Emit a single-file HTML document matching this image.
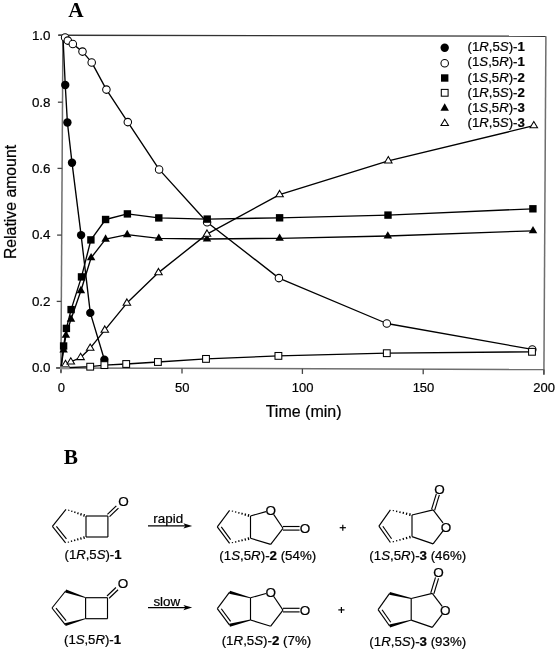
<!DOCTYPE html>
<html><head><meta charset="utf-8"><style>
html,body{margin:0;padding:0;background:#fff;}
body{width:556px;height:651px;overflow:hidden;}
svg{display:block;filter:grayscale(1);}
.s{font-family:"Liberation Sans",sans-serif;fill:#000;stroke:#000;stroke-width:0.22px;}
.r{font-family:"Liberation Serif",serif;fill:#000;}
</style></head><body>
<svg width="556" height="651" viewBox="0 0 556 651">
<rect width="556" height="651" fill="#fff"/>
<line x1="56" y1="367.9" x2="543.9" y2="369.5" stroke="#6e6e6e" stroke-width="1.5"/>
<line x1="62.9" y1="35.3" x2="60.9" y2="372.6" stroke="#6e6e6e" stroke-width="1.5"/>
<line x1="58.3" y1="35.2" x2="545.9" y2="36.2" stroke="#333" stroke-width="1.4"/>
<line x1="545.9" y1="36.2" x2="543.9" y2="374.5" stroke="#6e6e6e" stroke-width="1.5"/>
<line x1="58.3" y1="35.2" x2="62.9" y2="35.2" stroke="#444" stroke-width="1.3"/>
<line x1="57.9" y1="102.2" x2="62.5" y2="102.2" stroke="#444" stroke-width="1.3"/>
<line x1="57.5" y1="168.4" x2="62.1" y2="168.4" stroke="#444" stroke-width="1.3"/>
<line x1="57.1" y1="235.1" x2="61.7" y2="235.1" stroke="#444" stroke-width="1.3"/>
<line x1="56.7" y1="301.4" x2="61.3" y2="301.4" stroke="#444" stroke-width="1.3"/>
<line x1="56.3" y1="367.9" x2="60.9" y2="367.9" stroke="#444" stroke-width="1.3"/>
<line x1="61" y1="368" x2="61" y2="373.2" stroke="#444" stroke-width="1.3"/>
<line x1="182" y1="368.38" x2="182" y2="373.58" stroke="#444" stroke-width="1.3"/>
<line x1="302.4" y1="368.75" x2="302.4" y2="373.95" stroke="#444" stroke-width="1.3"/>
<line x1="423.2" y1="369.13" x2="423.2" y2="374.33" stroke="#444" stroke-width="1.3"/>
<line x1="543.9" y1="369.5" x2="543.9" y2="374.7" stroke="#444" stroke-width="1.3"/>
<polyline points="62.9,35.3 65.25,85 67.4,122.5 72,162.7 81.1,235.1 90.3,312.9 104.4,359.7" fill="none" stroke="#000" stroke-width="1.35" stroke-linejoin="round"/>
<circle cx="65.25" cy="85" r="4.2" fill="#000"/>
<circle cx="67.4" cy="122.5" r="4.2" fill="#000"/>
<circle cx="72" cy="162.7" r="4.2" fill="#000"/>
<circle cx="81.1" cy="235.1" r="4.2" fill="#000"/>
<circle cx="90.3" cy="312.9" r="4.2" fill="#000"/>
<circle cx="104.4" cy="359.7" r="4.2" fill="#000"/>
<polyline points="62.9,35.3 65.1,37.4 67.8,40.6 72.8,44 82.5,51.6 91.7,62.4 106.4,89.6 127.8,122.1 159.1,169.4 207.1,222.2 278.9,278.1 386.8,323.5 532.3,349.4" fill="none" stroke="#000" stroke-width="1.35" stroke-linejoin="round"/>
<circle cx="65.1" cy="37.4" r="3.75" fill="#fff" stroke="#000" stroke-width="1.05"/>
<circle cx="67.8" cy="40.6" r="3.75" fill="#fff" stroke="#000" stroke-width="1.05"/>
<circle cx="72.8" cy="44" r="3.75" fill="#fff" stroke="#000" stroke-width="1.05"/>
<circle cx="82.5" cy="51.6" r="3.75" fill="#fff" stroke="#000" stroke-width="1.05"/>
<circle cx="91.7" cy="62.4" r="3.75" fill="#fff" stroke="#000" stroke-width="1.05"/>
<circle cx="106.4" cy="89.6" r="3.75" fill="#fff" stroke="#000" stroke-width="1.05"/>
<circle cx="127.8" cy="122.1" r="3.75" fill="#fff" stroke="#000" stroke-width="1.05"/>
<circle cx="159.1" cy="169.4" r="3.75" fill="#fff" stroke="#000" stroke-width="1.05"/>
<circle cx="207.1" cy="222.2" r="3.75" fill="#fff" stroke="#000" stroke-width="1.05"/>
<circle cx="278.9" cy="278.1" r="3.75" fill="#fff" stroke="#000" stroke-width="1.05"/>
<circle cx="386.8" cy="323.5" r="3.75" fill="#fff" stroke="#000" stroke-width="1.05"/>
<circle cx="532.3" cy="349.4" r="3.75" fill="#fff" stroke="#000" stroke-width="1.05"/>
<polyline points="61,368 63.6,346 66.4,328.4 71.1,309.6 81.5,276.9 90.9,239.9 105.6,219.5 127.4,213.9 158.8,217.9 207.2,219.1 279.6,217.8 388,215.1 532.9,208.8" fill="none" stroke="#000" stroke-width="1.35" stroke-linejoin="round"/>
<rect x="59.9" y="342.3" width="7.4" height="7.4" fill="#000"/>
<rect x="62.7" y="324.7" width="7.4" height="7.4" fill="#000"/>
<rect x="67.4" y="305.9" width="7.4" height="7.4" fill="#000"/>
<rect x="77.8" y="273.2" width="7.4" height="7.4" fill="#000"/>
<rect x="87.2" y="236.2" width="7.4" height="7.4" fill="#000"/>
<rect x="101.9" y="215.8" width="7.4" height="7.4" fill="#000"/>
<rect x="123.7" y="210.2" width="7.4" height="7.4" fill="#000"/>
<rect x="155.1" y="214.2" width="7.4" height="7.4" fill="#000"/>
<rect x="203.5" y="215.4" width="7.4" height="7.4" fill="#000"/>
<rect x="275.9" y="214.1" width="7.4" height="7.4" fill="#000"/>
<rect x="384.3" y="211.4" width="7.4" height="7.4" fill="#000"/>
<rect x="529.2" y="205.1" width="7.4" height="7.4" fill="#000"/>
<polyline points="61,368 90.2,366.7 104.4,365.1 126.2,364 157.9,362 206,358.9 278.4,355.9 386.8,353.2 532,351.8" fill="none" stroke="#000" stroke-width="1.35" stroke-linejoin="round"/>
<rect x="86.8" y="363.3" width="6.8" height="6.8" fill="#fff" stroke="#000" stroke-width="1.05"/>
<rect x="101" y="361.7" width="6.8" height="6.8" fill="#fff" stroke="#000" stroke-width="1.05"/>
<rect x="122.8" y="360.6" width="6.8" height="6.8" fill="#fff" stroke="#000" stroke-width="1.05"/>
<rect x="154.5" y="358.6" width="6.8" height="6.8" fill="#fff" stroke="#000" stroke-width="1.05"/>
<rect x="202.6" y="355.5" width="6.8" height="6.8" fill="#fff" stroke="#000" stroke-width="1.05"/>
<rect x="275" y="352.5" width="6.8" height="6.8" fill="#fff" stroke="#000" stroke-width="1.05"/>
<rect x="383.4" y="349.8" width="6.8" height="6.8" fill="#fff" stroke="#000" stroke-width="1.05"/>
<rect x="528.6" y="348.4" width="6.8" height="6.8" fill="#fff" stroke="#000" stroke-width="1.05"/>
<polyline points="61,368 63.6,350 65.9,335.3 71,319.2 80.9,290.7 91.1,257.8 105.6,239.2 127.2,234.7 158.8,238.4 207,239 279.6,238.3 387.8,236 533,230.8" fill="none" stroke="#000" stroke-width="1.35" stroke-linejoin="round"/>
<polygon points="63.6,345.13 67.85,352.43 59.35,352.43" fill="#000"/>
<polygon points="65.9,330.43 70.15,337.73 61.65,337.73" fill="#000"/>
<polygon points="71,314.33 75.25,321.63 66.75,321.63" fill="#000"/>
<polygon points="80.9,285.83 85.15,293.13 76.65,293.13" fill="#000"/>
<polygon points="91.1,252.93 95.35,260.23 86.85,260.23" fill="#000"/>
<polygon points="105.6,234.33 109.85,241.63 101.35,241.63" fill="#000"/>
<polygon points="127.2,229.83 131.45,237.13 122.95,237.13" fill="#000"/>
<polygon points="158.8,233.53 163.05,240.83 154.55,240.83" fill="#000"/>
<polygon points="207,234.13 211.25,241.43 202.75,241.43" fill="#000"/>
<polygon points="279.6,233.43 283.85,240.73 275.35,240.73" fill="#000"/>
<polygon points="387.8,231.13 392.05,238.43 383.55,238.43" fill="#000"/>
<polygon points="533,225.93 537.25,233.23 528.75,233.23" fill="#000"/>
<polyline points="61,368 65.5,364.5 70.8,361.9 80.6,357.5 90.2,348.2 104.8,330.1 126.9,303.1 158.5,272.6 207,234.1 279.6,194.6 388.3,160.8 533.8,125.7" fill="none" stroke="#000" stroke-width="1.35" stroke-linejoin="round"/>
<polygon points="65.5,360.3 69.25,366.6 61.75,366.6" fill="#fff" stroke="#000" stroke-width="1.05"/>
<polygon points="70.8,357.7 74.55,364 67.05,364" fill="#fff" stroke="#000" stroke-width="1.05"/>
<polygon points="80.6,353.3 84.35,359.6 76.85,359.6" fill="#fff" stroke="#000" stroke-width="1.05"/>
<polygon points="90.2,344 93.95,350.3 86.45,350.3" fill="#fff" stroke="#000" stroke-width="1.05"/>
<polygon points="104.8,325.9 108.55,332.2 101.05,332.2" fill="#fff" stroke="#000" stroke-width="1.05"/>
<polygon points="126.9,298.9 130.65,305.2 123.15,305.2" fill="#fff" stroke="#000" stroke-width="1.05"/>
<polygon points="158.5,268.4 162.25,274.7 154.75,274.7" fill="#fff" stroke="#000" stroke-width="1.05"/>
<polygon points="207,229.9 210.75,236.2 203.25,236.2" fill="#fff" stroke="#000" stroke-width="1.05"/>
<polygon points="279.6,190.4 283.35,196.7 275.85,196.7" fill="#fff" stroke="#000" stroke-width="1.05"/>
<polygon points="388.3,156.6 392.05,162.9 384.55,162.9" fill="#fff" stroke="#000" stroke-width="1.05"/>
<polygon points="533.8,121.5 537.55,127.8 530.05,127.8" fill="#fff" stroke="#000" stroke-width="1.05"/>
<rect x="60" y="366.3" width="9.5" height="3.2" fill="#aaa" opacity="0.8"/>
<circle cx="444.7" cy="47.7" r="4.2" fill="#000"/>
<circle cx="444.7" cy="63.2" r="3.75" fill="#fff" stroke="#000" stroke-width="1.05"/>
<rect x="441" y="74.3" width="7.4" height="7.4" fill="#000"/>
<rect x="441.3" y="89.4" width="6.8" height="6.8" fill="#fff" stroke="#000" stroke-width="1.05"/>
<polygon points="444.7,103.33 448.95,110.63 440.45,110.63" fill="#000"/>
<polygon points="444.7,119.2 448.45,125.5 440.95,125.5" fill="#fff" stroke="#000" stroke-width="1.05"/>
<text x="467.6" y="51.2" class="s" font-size="13.2">(1<tspan font-style="italic">R</tspan>,5<tspan font-style="italic">S</tspan>)-<tspan font-weight="bold">1</tspan></text>
<text x="467.6" y="66.35" class="s" font-size="13.2">(1<tspan font-style="italic">S</tspan>,5<tspan font-style="italic">R</tspan>)-<tspan font-weight="bold">1</tspan></text>
<text x="467.6" y="81.5" class="s" font-size="13.2">(1<tspan font-style="italic">S</tspan>,5<tspan font-style="italic">R</tspan>)-<tspan font-weight="bold">2</tspan></text>
<text x="467.6" y="96.65" class="s" font-size="13.2">(1<tspan font-style="italic">R</tspan>,5<tspan font-style="italic">S</tspan>)-<tspan font-weight="bold">2</tspan></text>
<text x="467.6" y="111.8" class="s" font-size="13.2">(1<tspan font-style="italic">S</tspan>,5<tspan font-style="italic">R</tspan>)-<tspan font-weight="bold">3</tspan></text>
<text x="467.6" y="126.95" class="s" font-size="13.2">(1<tspan font-style="italic">R</tspan>,5<tspan font-style="italic">S</tspan>)-<tspan font-weight="bold">3</tspan></text>
<text x="50.5" y="39.55" class="s" font-size="13.4" text-anchor="end">1.0</text>
<text x="50.5" y="106.55" class="s" font-size="13.4" text-anchor="end">0.8</text>
<text x="50.5" y="172.75" class="s" font-size="13.4" text-anchor="end">0.6</text>
<text x="50.5" y="239.45" class="s" font-size="13.4" text-anchor="end">0.4</text>
<text x="50.5" y="305.75" class="s" font-size="13.4" text-anchor="end">0.2</text>
<text x="50.5" y="372.25" class="s" font-size="13.4" text-anchor="end">0.0</text>
<text x="61.3" y="392.0" class="s" font-size="13" text-anchor="middle">0</text>
<text x="182.3" y="392.0" class="s" font-size="13" text-anchor="middle">50</text>
<text x="302.7" y="392.0" class="s" font-size="13" text-anchor="middle">100</text>
<text x="423.5" y="392.0" class="s" font-size="13" text-anchor="middle">150</text>
<text x="544.2" y="392.0" class="s" font-size="13" text-anchor="middle">200</text>
<text x="303.6" y="416.6" class="s" font-size="16" text-anchor="middle">Time (min)</text>
<text transform="translate(16.3,202.0) rotate(-90)" x="0" y="0" class="s" font-size="15.8" text-anchor="middle">Relative amount</text>
<text x="68.2" y="17.4" class="r" font-size="21.3" font-weight="bold">A</text>
<text x="63.8" y="463.7" class="r" font-size="21.3" font-weight="bold">B</text>
<line x1="66" y1="509.3" x2="52.4" y2="526.3" stroke="#000" stroke-width="1.15"/>
<line x1="52.4" y1="526.3" x2="65.6" y2="542.9" stroke="#000" stroke-width="1.15"/>
<line x1="56.41" y1="526.36" x2="66.44" y2="538.98" stroke="#000" stroke-width="1.15"/>
<line x1="68.9" y1="509.71" x2="68.56" y2="510.72" stroke="#000" stroke-width="1.3"/>
<line x1="72.02" y1="510.59" x2="71.58" y2="511.9" stroke="#000" stroke-width="1.3"/>
<line x1="75.13" y1="511.47" x2="74.6" y2="513.07" stroke="#000" stroke-width="1.3"/>
<line x1="78.25" y1="512.35" x2="77.62" y2="514.24" stroke="#000" stroke-width="1.3"/>
<line x1="81.37" y1="513.23" x2="80.63" y2="515.42" stroke="#000" stroke-width="1.3"/>
<line x1="84.48" y1="514.12" x2="83.65" y2="516.59" stroke="#000" stroke-width="1.3"/>
<line x1="68.24" y1="541.58" x2="68.54" y2="542.61" stroke="#000" stroke-width="1.3"/>
<line x1="71.32" y1="540.53" x2="71.71" y2="541.85" stroke="#000" stroke-width="1.3"/>
<line x1="74.41" y1="539.47" x2="74.88" y2="541.09" stroke="#000" stroke-width="1.3"/>
<line x1="77.5" y1="538.42" x2="78.05" y2="540.34" stroke="#000" stroke-width="1.3"/>
<line x1="80.58" y1="537.37" x2="81.22" y2="539.58" stroke="#000" stroke-width="1.3"/>
<line x1="83.67" y1="536.32" x2="84.39" y2="538.82" stroke="#000" stroke-width="1.3"/>
<line x1="86" y1="516" x2="86" y2="537" stroke="#000" stroke-width="1.15"/>
<line x1="86" y1="516" x2="107.9" y2="516" stroke="#000" stroke-width="1.15"/>
<line x1="107.9" y1="516" x2="107.9" y2="537" stroke="#000" stroke-width="1.15"/>
<line x1="107.9" y1="537" x2="86" y2="537" stroke="#000" stroke-width="1.15"/>
<line x1="107.41" y1="514.33" x2="116.33" y2="505.81" stroke="#000" stroke-width="1.15"/>
<line x1="109.55" y1="516.57" x2="118.47" y2="508.05" stroke="#000" stroke-width="1.15"/>
<text x="123.4" y="505.95" class="s" font-size="13.5" text-anchor="middle">O</text>
<line x1="229.6" y1="510.4" x2="217.3" y2="526.8" stroke="#000" stroke-width="1.15"/>
<line x1="217.3" y1="526.8" x2="229.6" y2="543.4" stroke="#000" stroke-width="1.15"/>
<line x1="221.27" y1="526.95" x2="230.61" y2="539.56" stroke="#000" stroke-width="1.15"/>
<line x1="232.6" y1="510.65" x2="232.32" y2="511.68" stroke="#000" stroke-width="1.3"/>
<line x1="235.84" y1="511.36" x2="235.48" y2="512.69" stroke="#000" stroke-width="1.3"/>
<line x1="239.08" y1="512.07" x2="238.65" y2="513.7" stroke="#000" stroke-width="1.3"/>
<line x1="242.33" y1="512.78" x2="241.81" y2="514.7" stroke="#000" stroke-width="1.3"/>
<line x1="245.57" y1="513.49" x2="244.98" y2="515.71" stroke="#000" stroke-width="1.3"/>
<line x1="248.82" y1="514.2" x2="248.14" y2="516.72" stroke="#000" stroke-width="1.3"/>
<line x1="232.33" y1="542.17" x2="232.59" y2="543.21" stroke="#000" stroke-width="1.3"/>
<line x1="235.49" y1="541.22" x2="235.83" y2="542.56" stroke="#000" stroke-width="1.3"/>
<line x1="238.66" y1="540.28" x2="239.07" y2="541.91" stroke="#000" stroke-width="1.3"/>
<line x1="241.83" y1="539.33" x2="242.31" y2="541.26" stroke="#000" stroke-width="1.3"/>
<line x1="245" y1="538.38" x2="245.55" y2="540.62" stroke="#000" stroke-width="1.3"/>
<line x1="248.16" y1="537.44" x2="248.79" y2="539.97" stroke="#000" stroke-width="1.3"/>
<line x1="250.5" y1="516" x2="250.5" y2="538.2" stroke="#000" stroke-width="1.15"/>
<line x1="250.5" y1="516" x2="265.99" y2="511.65" stroke="#000" stroke-width="1.15"/>
<line x1="273.61" y1="514.44" x2="283" y2="528.3" stroke="#000" stroke-width="1.15"/>
<line x1="283" y1="526.5" x2="299.6" y2="526.5" stroke="#000" stroke-width="1.15"/>
<line x1="283" y1="530.1" x2="299.6" y2="530.1" stroke="#000" stroke-width="1.15"/>
<line x1="283" y1="528.3" x2="270.7" y2="544.4" stroke="#000" stroke-width="1.15"/>
<line x1="270.7" y1="544.4" x2="250.5" y2="538.2" stroke="#000" stroke-width="1.15"/>
<text x="270.8" y="515.05" class="s" font-size="13.5" text-anchor="middle">O</text>
<text x="305" y="533.05" class="s" font-size="13.5" text-anchor="middle">O</text>
<line x1="390.4" y1="509.9" x2="378.9" y2="526.1" stroke="#000" stroke-width="1.15"/>
<line x1="378.9" y1="526.1" x2="390.4" y2="542.5" stroke="#000" stroke-width="1.15"/>
<line x1="382.82" y1="526.29" x2="391.56" y2="538.75" stroke="#000" stroke-width="1.15"/>
<line x1="393.48" y1="510.07" x2="393.23" y2="511.12" stroke="#000" stroke-width="1.3"/>
<line x1="396.82" y1="510.71" x2="396.51" y2="512.05" stroke="#000" stroke-width="1.3"/>
<line x1="400.17" y1="511.34" x2="399.78" y2="512.98" stroke="#000" stroke-width="1.3"/>
<line x1="403.52" y1="511.97" x2="403.06" y2="513.91" stroke="#000" stroke-width="1.3"/>
<line x1="406.86" y1="512.61" x2="406.34" y2="514.84" stroke="#000" stroke-width="1.3"/>
<line x1="410.21" y1="513.24" x2="409.61" y2="515.78" stroke="#000" stroke-width="1.3"/>
<line x1="393.21" y1="541.18" x2="393.49" y2="542.21" stroke="#000" stroke-width="1.3"/>
<line x1="396.48" y1="540.12" x2="396.85" y2="541.45" stroke="#000" stroke-width="1.3"/>
<line x1="399.75" y1="539.07" x2="400.2" y2="540.7" stroke="#000" stroke-width="1.3"/>
<line x1="403.03" y1="538.02" x2="403.55" y2="539.94" stroke="#000" stroke-width="1.3"/>
<line x1="406.3" y1="536.97" x2="406.9" y2="539.18" stroke="#000" stroke-width="1.3"/>
<line x1="409.57" y1="535.91" x2="410.26" y2="538.43" stroke="#000" stroke-width="1.3"/>
<line x1="412" y1="515" x2="412" y2="536.6" stroke="#000" stroke-width="1.15"/>
<line x1="412" y1="515" x2="433.1" y2="509.9" stroke="#000" stroke-width="1.15"/>
<line x1="431.57" y1="509.43" x2="436.3" y2="493.9" stroke="#000" stroke-width="1.15"/>
<line x1="434.63" y1="510.37" x2="439.36" y2="494.83" stroke="#000" stroke-width="1.15"/>
<line x1="433.1" y1="509.9" x2="442.98" y2="522.92" stroke="#000" stroke-width="1.15"/>
<line x1="442.98" y1="530.88" x2="433.1" y2="543.9" stroke="#000" stroke-width="1.15"/>
<line x1="433.1" y1="543.9" x2="412" y2="536.6" stroke="#000" stroke-width="1.15"/>
<text x="439.4" y="493.95" class="s" font-size="13.5" text-anchor="middle">O</text>
<text x="446" y="531.65" class="s" font-size="13.5" text-anchor="middle">O</text>
<line x1="65.6" y1="591" x2="52" y2="608" stroke="#000" stroke-width="1.15"/>
<line x1="52" y1="608" x2="65.2" y2="624.6" stroke="#000" stroke-width="1.15"/>
<line x1="56.01" y1="608.06" x2="66.04" y2="620.68" stroke="#000" stroke-width="1.15"/>
<polygon points="85.47,598.08 85.73,597.32 66.08,589.58 65.12,592.42" fill="#000"/>
<polygon points="85.71,619.08 85.49,618.32 64.78,623.16 65.62,626.04" fill="#000"/>
<line x1="85.6" y1="597.7" x2="85.6" y2="618.7" stroke="#000" stroke-width="1.15"/>
<line x1="85.6" y1="597.7" x2="107.5" y2="597.7" stroke="#000" stroke-width="1.15"/>
<line x1="107.5" y1="597.7" x2="107.5" y2="618.7" stroke="#000" stroke-width="1.15"/>
<line x1="107.5" y1="618.7" x2="85.6" y2="618.7" stroke="#000" stroke-width="1.15"/>
<line x1="107.01" y1="596.03" x2="115.93" y2="587.51" stroke="#000" stroke-width="1.15"/>
<line x1="109.15" y1="598.27" x2="118.07" y2="589.75" stroke="#000" stroke-width="1.15"/>
<text x="123" y="587.65" class="s" font-size="13.5" text-anchor="middle">O</text>
<line x1="229.6" y1="592.2" x2="217.3" y2="608.6" stroke="#000" stroke-width="1.15"/>
<line x1="217.3" y1="608.6" x2="229.6" y2="625.2" stroke="#000" stroke-width="1.15"/>
<line x1="221.27" y1="608.75" x2="230.61" y2="621.36" stroke="#000" stroke-width="1.15"/>
<polygon points="250.4,598.19 250.6,597.41 229.99,590.75 229.21,593.65" fill="#000"/>
<polygon points="250.6,620.39 250.4,619.61 229.24,623.74 229.96,626.66" fill="#000"/>
<line x1="250.5" y1="597.8" x2="250.5" y2="620" stroke="#000" stroke-width="1.15"/>
<line x1="250.5" y1="597.8" x2="265.99" y2="593.45" stroke="#000" stroke-width="1.15"/>
<line x1="273.61" y1="596.24" x2="283" y2="610.1" stroke="#000" stroke-width="1.15"/>
<line x1="283" y1="608.3" x2="299.6" y2="608.3" stroke="#000" stroke-width="1.15"/>
<line x1="283" y1="611.9" x2="299.6" y2="611.9" stroke="#000" stroke-width="1.15"/>
<line x1="283" y1="610.1" x2="270.7" y2="626.2" stroke="#000" stroke-width="1.15"/>
<line x1="270.7" y1="626.2" x2="250.5" y2="620" stroke="#000" stroke-width="1.15"/>
<text x="270.8" y="596.85" class="s" font-size="13.5" text-anchor="middle">O</text>
<text x="305" y="614.85" class="s" font-size="13.5" text-anchor="middle">O</text>
<line x1="389.6" y1="593.4" x2="378.1" y2="609.6" stroke="#000" stroke-width="1.15"/>
<line x1="378.1" y1="609.6" x2="389.6" y2="626" stroke="#000" stroke-width="1.15"/>
<line x1="382.02" y1="609.79" x2="390.76" y2="622.25" stroke="#000" stroke-width="1.15"/>
<polygon points="411.11,598.89 411.29,598.11 389.94,591.94 389.26,594.86" fill="#000"/>
<polygon points="411.31,620.49 411.09,619.71 389.2,624.55 390,627.45" fill="#000"/>
<line x1="411.2" y1="598.5" x2="411.2" y2="620.1" stroke="#000" stroke-width="1.15"/>
<line x1="411.2" y1="598.5" x2="432.3" y2="593.4" stroke="#000" stroke-width="1.15"/>
<line x1="430.77" y1="592.93" x2="435.5" y2="577.4" stroke="#000" stroke-width="1.15"/>
<line x1="433.83" y1="593.87" x2="438.56" y2="578.33" stroke="#000" stroke-width="1.15"/>
<line x1="432.3" y1="593.4" x2="442.18" y2="606.42" stroke="#000" stroke-width="1.15"/>
<line x1="442.18" y1="614.38" x2="432.3" y2="627.4" stroke="#000" stroke-width="1.15"/>
<line x1="432.3" y1="627.4" x2="411.2" y2="620.1" stroke="#000" stroke-width="1.15"/>
<text x="438.6" y="577.45" class="s" font-size="13.5" text-anchor="middle">O</text>
<text x="445.2" y="615.15" class="s" font-size="13.5" text-anchor="middle">O</text>
<text x="64.5" y="559" class="s" font-size="13.15">(1<tspan font-style="italic">R</tspan>,5<tspan font-style="italic">S</tspan>)-<tspan font-weight="bold">1</tspan></text>
<text x="219.3" y="559.8" class="s" font-size="13.3">(1<tspan font-style="italic">S</tspan>,5<tspan font-style="italic">R</tspan>)-<tspan font-weight="bold">2</tspan> (54%)</text>
<text x="369.3" y="559.8" class="s" font-size="13.3">(1<tspan font-style="italic">S</tspan>,5<tspan font-style="italic">R</tspan>)-<tspan font-weight="bold">3</tspan> (46%)</text>
<text x="64" y="644.4" class="s" font-size="13.15">(1<tspan font-style="italic">S</tspan>,5<tspan font-style="italic">R</tspan>)-<tspan font-weight="bold">1</tspan></text>
<text x="221.7" y="645.2" class="s" font-size="13.3">(1<tspan font-style="italic">R</tspan>,5<tspan font-style="italic">S</tspan>)-<tspan font-weight="bold">2</tspan> (7%)</text>
<text x="369.3" y="646.4" class="s" font-size="13.3">(1<tspan font-style="italic">R</tspan>,5<tspan font-style="italic">S</tspan>)-<tspan font-weight="bold">3</tspan> (93%)</text>
<line x1="148" y1="525.9" x2="187.2" y2="525.9" stroke="#000" stroke-width="1.3"/>
<polygon points="192.2,525.9 183.4,523.3 185.4,525.9 183.4,528.5" fill="#000"/>
<line x1="148" y1="607.6" x2="187.2" y2="607.6" stroke="#000" stroke-width="1.3"/>
<polygon points="192.2,607.6 183.4,605 185.4,607.6 183.4,610.2" fill="#000"/>
<text x="153.3" y="523.3" class="s" font-size="13.4">rapid</text>
<text x="153.4" y="605.6" class="s" font-size="13.4">slow</text>
<line x1="339.7" y1="527.7" x2="345.9" y2="527.7" stroke="#000" stroke-width="1.2"/>
<line x1="342.8" y1="524.7" x2="342.8" y2="530.7" stroke="#000" stroke-width="1.2"/>
<line x1="338.3" y1="609.9" x2="344.5" y2="609.9" stroke="#000" stroke-width="1.2"/>
<line x1="341.4" y1="606.9" x2="341.4" y2="612.9" stroke="#000" stroke-width="1.2"/>
</svg>
</body></html>
